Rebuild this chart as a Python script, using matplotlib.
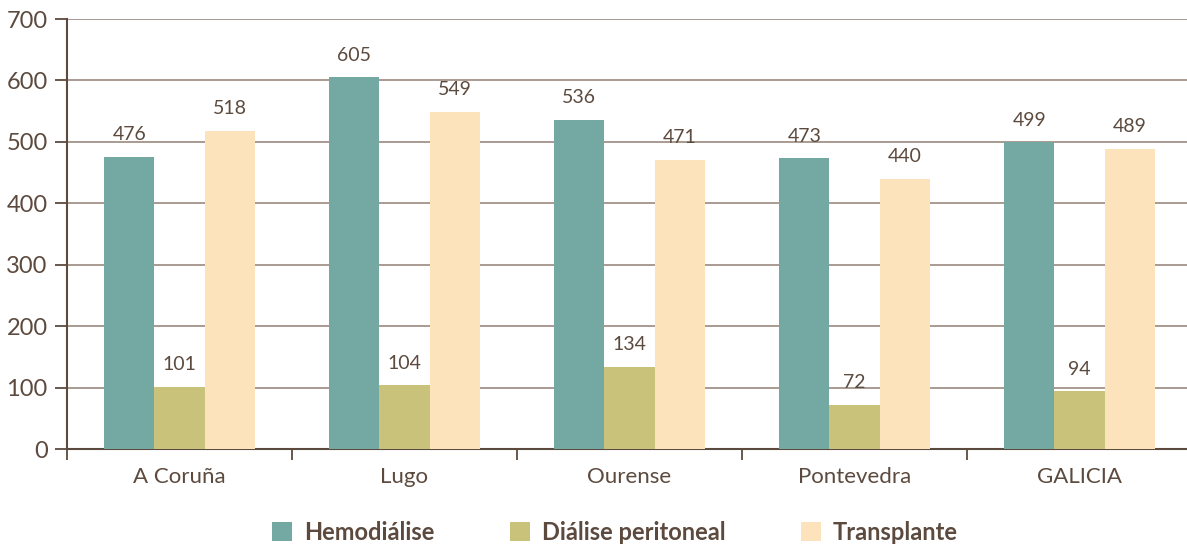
import matplotlib
matplotlib.use("Agg")
import matplotlib.pyplot as plt
import numpy as np
from matplotlib.patches import Patch

categories = ["A Coruña", "Lugo", "Ourense", "Pontevedra", "GALICIA"]
series_names = ["Hemodiálise", "Diálise peritoneal", "Transplante"]
hemodialise = [476, 605, 536, 473, 499]
dialise_peritoneal = [101, 104, 134, 72, 94]
transplante = [518, 549, 471, 440, 489]
yticks = [0, 100, 200, 300, 400, 500, 600, 700]

colors = ["#74A8A2", "#C8C27A", "#FCE3BC"]
txt = "#5C4A3E"
plt.rcParams['font.family'] = ['Lato', 'DejaVu Sans']

fig = plt.figure(figsize=(11.87, 5.45), dpi=100)
ax = fig.add_axes([67/1187, 1-449/545, 1125/1187, 430/545])

x = np.arange(len(categories))
w = 0.223
for i, (vals, c) in enumerate(zip([hemodialise, dialise_peritoneal, transplante], colors)):
    pos = x + (i - 1) * w
    ax.bar(pos, vals, width=w, color=c, zorder=3)
    for p, v in zip(pos, vals):
        ax.text(p, v + 22, str(v), ha='center', va='bottom', fontsize=14, color=txt)

ax.set_xlim(-0.5, len(categories) - 0.5)
ax.set_ylim(0, 700)
ax.set_yticks(yticks)
ax.set_yticklabels([str(t) for t in yticks], fontsize=17, color=txt)
ax.yaxis.grid(True, color="#A39388", linewidth=1.3, zorder=0)
ax.set_xticks(x)
ax.set_xticklabels(categories, fontsize=16, color=txt)
ax.tick_params(axis='x', length=0, pad=13)
ax.tick_params(axis='y', length=9, width=1.3, color=txt, pad=5)
ax.set_xticks(np.arange(-0.5, len(categories)), minor=True)
ax.tick_params(axis='x', which='minor', length=8, width=1.3, color=txt, direction='out')
for s in ['top', 'right']:
    ax.spines[s].set_visible(False)
for s in ['left', 'bottom']:
    ax.spines[s].set_color(txt)
    ax.spines[s].set_linewidth(1.5)

handles = [Patch(facecolor=c, edgecolor='none') for c in colors]
leg = fig.legend(handles, series_names, loc='center', bbox_to_anchor=(615/1187, 1-532/545),
                 ncol=3, frameon=False, prop={'size': 17, 'weight': 'bold'},
                 handlelength=0.85, handleheight=0.85, handletextpad=0.5, columnspacing=3.2)
for t in leg.get_texts():
    t.set_color(txt)

fig.savefig("out.png", dpi=100)
